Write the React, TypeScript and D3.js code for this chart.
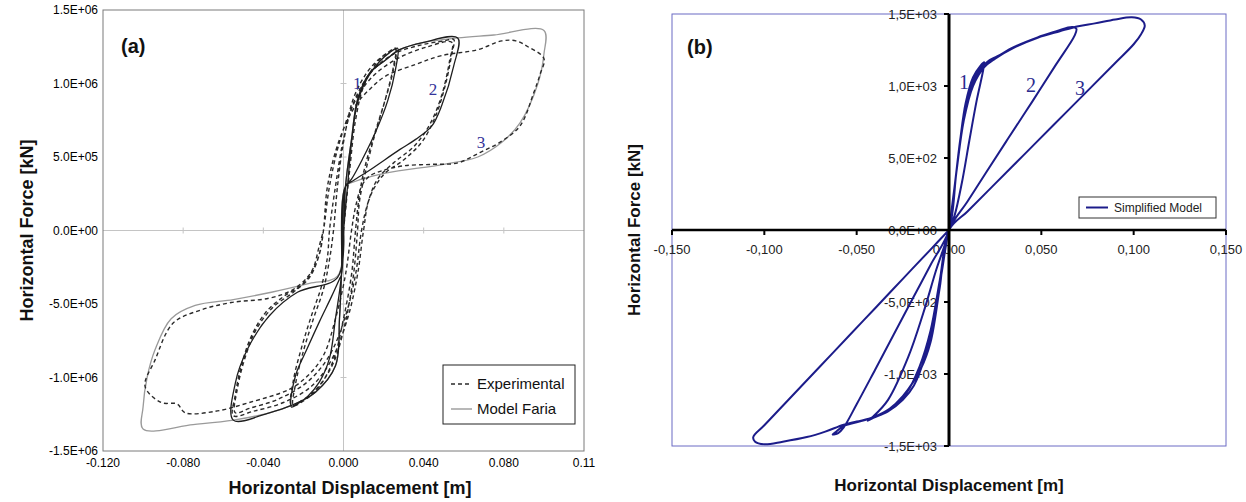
import React from 'react';
import * as d3 from 'd3';

type Pt = [number, number];

// ---------- chart (a) ----------
const ticksXA = [-0.12, -0.08, -0.04, 0, 0.04, 0.08, 0.12];
const tickLabelsXA = ['-0.120', '-0.080', '-0.040', '0.000', '0.040', '0.080', '0.11'];
const ticksYA = [-1.5e6, -1e6, -5e5, 0, 5e5, 1e6, 1.5e6];
const tickLabelsYA = ['-1.5E+06', '-1.0E+06', '-5.0E+05', '0.0E+00', '5.0E+05', '1.0E+06', '1.5E+06'];

// dashed test curve (m, kN)
const experimental: Pt[] = [
  [0, 0], [0.003, 0.4e6], [0.006, 0.75e6], [0.01, 0.98e6], [0.016, 1.13e6], [0.022, 1.21e6], [0.026, 1.24e6],
  [0.025, 1.12e6], [0.021, 0.9e6], [0.016, 0.68e6], [0.011, 0.45e6], [0.008, 0.25e6], [0.006, 0], [0.004, -0.3e6],
  [0.0, -0.6e6], [-0.005, -0.88e6], [-0.012, -1.06e6], [-0.019, -1.15e6], [-0.025, -1.19e6],
  [-0.024, -1.05e6], [-0.02, -0.82e6], [-0.015, -0.6e6], [-0.01, -0.4e6], [-0.007, -0.2e6], [-0.005, 0],
  [-0.003, 0.3e6], [0.0, 0.6e6], [0.005, 0.9e6], [0.012, 1.08e6], [0.019, 1.18e6], [0.026, 1.23e6],
  [0.025, 1.1e6], [0.02, 0.85e6], [0.015, 0.62e6], [0.011, 0.4e6], [0.008, 0.2e6], [0.007, 0], [0.005, -0.3e6],
  [0.001, -0.62e6], [-0.005, -0.9e6], [-0.013, -1.07e6], [-0.02, -1.15e6], [-0.026, -1.19e6],
  [-0.025, -1.02e6], [-0.021, -0.8e6], [-0.016, -0.58e6], [-0.011, -0.38e6], [-0.008, -0.18e6], [-0.007, 0],
  [-0.004, 0.3e6], [0.0, 0.62e6], [0.006, 0.9e6], [0.014, 1.08e6], [0.025, 1.2e6], [0.038, 1.26e6], [0.05, 1.29e6], [0.055, 1.3e6],
  [0.054, 1.2e6], [0.051, 1.0e6], [0.046, 0.78e6], [0.039, 0.6e6], [0.03, 0.48e6], [0.02, 0.38e6], [0.013, 0.22e6], [0.01, 0],
  [0.007, -0.3e6], [0.002, -0.6e6], [-0.006, -0.88e6], [-0.016, -1.06e6], [-0.03, -1.17e6], [-0.045, -1.23e6], [-0.055, -1.26e6],
  [-0.054, -1.12e6], [-0.051, -0.92e6], [-0.046, -0.72e6], [-0.039, -0.56e6], [-0.03, -0.45e6], [-0.02, -0.36e6], [-0.013, -0.2e6], [-0.01, 0],
  [-0.007, 0.3e6], [-0.002, 0.6e6], [0.005, 0.86e6], [0.014, 1.04e6], [0.027, 1.17e6], [0.042, 1.25e6], [0.054, 1.28e6],
  [0.053, 1.16e6], [0.049, 0.92e6], [0.043, 0.72e6], [0.035, 0.57e6], [0.025, 0.46e6], [0.017, 0.35e6], [0.012, 0.18e6], [0.009, 0],
  [0.006, -0.3e6], [0.001, -0.58e6], [-0.007, -0.85e6], [-0.018, -1.03e6], [-0.033, -1.15e6], [-0.047, -1.21e6], [-0.054, -1.24e6],
  [-0.053, -1.08e6], [-0.049, -0.86e6], [-0.043, -0.66e6], [-0.035, -0.52e6], [-0.025, -0.42e6], [-0.017, -0.32e6], [-0.012, -0.16e6], [-0.01, 0],
  [-0.008, 0.3e6], [-0.002, 0.62e6], [0.006, 0.85e6], [0.013, 0.96e6], [0.021, 1.05e6], [0.036, 1.13e6], [0.049, 1.19e6],
  [0.067, 1.23e6], [0.079, 1.29e6], [0.086, 1.29e6], [0.092, 1.25e6], [0.1, 1.17e6],
  [0.098, 1.06e6], [0.095, 0.94e6], [0.088, 0.71e6], [0.078, 0.6e6], [0.068, 0.53e6], [0.057, 0.46e6], [0.044, 0.45e6],
  [0.03, 0.44e6], [0.02, 0.41e6], [0.013, 0.37e6], [0.009, 0.3e6], [0.006, 0.16e6], [0.004, 0], [0.001, -0.3e6],
  [-0.004, -0.6e6], [-0.01, -0.85e6], [-0.018, -0.99e6], [-0.027, -1.08e6], [-0.047, -1.17e6], [-0.064, -1.23e6],
  [-0.079, -1.24e6], [-0.083, -1.18e6], [-0.091, -1.17e6], [-0.099, -1.06e6],
  [-0.094, -0.88e6], [-0.085, -0.63e6], [-0.071, -0.54e6], [-0.056, -0.49e6], [-0.037, -0.46e6], [-0.025, -0.4e6],
  [-0.016, -0.28e6], [-0.012, -0.1e6], [-0.01, 0],
];

// model, cycles 1 and 2
const modelFariaSmall: Pt[] = [
  [0, 0], [0.001, 0.15e6], [0.002, 0.3e6], [0.004, 0.6e6], [0.007, 0.87e6], [0.012, 1.04e6], [0.018, 1.15e6], [0.023, 1.21e6], [0.027, 1.24e6],
  [0.026, 1.1e6], [0.022, 0.88e6], [0.016, 0.67e6], [0.01, 0.5e6], [0.004, 0.35e6], [0.001, 0.3e6], [-0.001, -0.3e6],
  [-0.004, -0.6e6], [-0.007, -0.87e6], [-0.012, -1.03e6], [-0.018, -1.13e6], [-0.023, -1.18e6], [-0.026, -1.2e6],
  [-0.024, -0.99e6], [-0.018, -0.8e6], [-0.012, -0.62e6], [-0.006, -0.45e6], [-0.002, -0.33e6], [-0.001, -0.3e6], [0.001, 0.3e6],
  [0.004, 0.62e6], [0.007, 0.89e6], [0.013, 1.07e6], [0.021, 1.16e6], [0.028, 1.23e6], [0.04, 1.28e6], [0.057, 1.31e6],
  [0.055, 1.12e6], [0.049, 0.85e6], [0.044, 0.71e6], [0.036, 0.62e6], [0.028, 0.55e6], [0.013, 0.41e6], [0.005, 0.34e6], [0.001, 0.3e6],
  [-0.001, -0.3e6], [-0.002, -0.6e6], [-0.004, -0.92e6], [-0.014, -1.1e6], [-0.026, -1.19e6], [-0.037, -1.24e6], [-0.055, -1.29e6],
  [-0.054, -1.04e6], [-0.048, -0.81e6], [-0.037, -0.58e6], [-0.023, -0.42e6], [-0.003, -0.32e6], [0, 0],
];

// model, cycle 3
const modelFariaLarge: Pt[] = [
  [0, 0], [0.001, 0.3e6], [0.004, 0.62e6], [0.007, 0.89e6], [0.013, 1.07e6], [0.021, 1.16e6], [0.028, 1.23e6], [0.04, 1.28e6],
  [0.057, 1.31e6], [0.075, 1.33e6], [0.1, 1.36e6],
  [0.1, 1.2e6], [0.097, 1.0e6], [0.088, 0.73e6], [0.079, 0.6e6], [0.067, 0.5e6], [0.05, 0.45e6], [0.021, 0.39e6], [0.005, 0.33e6], [0.001, 0.3e6],
  [-0.001, -0.3e6], [-0.002, -0.6e6], [-0.004, -0.92e6], [-0.014, -1.1e6], [-0.026, -1.19e6], [-0.037, -1.24e6], [-0.055, -1.29e6],
  [-0.075, -1.32e6], [-0.1, -1.35e6],
  [-0.1, -1.2e6], [-0.098, -1.0e6], [-0.094, -0.81e6], [-0.086, -0.6e6], [-0.074, -0.51e6], [-0.055, -0.47e6], [-0.036, -0.42e6],
  [-0.017, -0.36e6], [-0.003, -0.31e6], [0, 0],
];

const cycleLabelsA = [
  { t: '1', x: 0.0068, y: 1.0e6 },
  { t: '2', x: 0.0446, y: 0.96e6 },
  { t: '3', x: 0.0686, y: 0.6e6 },
];

// ---------- chart (b) ----------
const ticksXB = [-0.15, -0.1, -0.05, 0, 0.05, 0.1, 0.15];
const tickLabelsXB = ['-0,150', '-0,100', '-0,050', '0,000', '0,050', '0,100', '0,150'];
const ticksYB = [-1500, -1000, -500, 0, 500, 1000, 1500];
const tickLabelsYB = ['-1,5E+03', '-1,0E+03', '-5,0E+02', '0,0E+00', '5,0E+02', '1,0E+03', '1,5E+03'];

const simplifiedModel: Pt[] = [
  [0, 0], [0.003, 300], [0.006, 620], [0.009, 880], [0.013, 1060], [0.017, 1140], [0.019, 1165],
  [0.0185, 1110], [0.015, 900], [0.011, 620], [0.007, 330], [0.003, 100], [0, 0],
  [-0.004, -300], [-0.008, -600], [-0.013, -880], [-0.019, -1080], [-0.025, -1180], [-0.033, -1260], [-0.041, -1305], [-0.044, -1325],
  [-0.041, -1295], [-0.033, -1180], [-0.022, -880], [-0.014, -580], [-0.007, -280], [0, 0],
  [0.004, 400], [0.008, 780], [0.012, 1000], [0.017, 1120], [0.022, 1180], [0.026, 1205], [0.035, 1270], [0.048, 1338],
  [0.059, 1384], [0.064, 1405], [0.067, 1410], [0.069, 1396], [0.068, 1350],
  [0.058, 1150], [0.045, 890], [0.032, 635], [0.02, 397], [0.01, 198], [0, 0],
  [-0.005, -350], [-0.01, -700], [-0.016, -950], [-0.023, -1130], [-0.032, -1240], [-0.041, -1300], [-0.05, -1335], [-0.057, -1360],
  [-0.061, -1400], [-0.063, -1420], [-0.06, -1410], [-0.057, -1370],
  [-0.05, -1210], [-0.04, -970], [-0.03, -728], [-0.02, -485], [-0.01, -243], [0, 0],
  [0.004, 400], [0.008, 760], [0.013, 1000], [0.019, 1130], [0.025, 1190], [0.035, 1265], [0.048, 1335], [0.06, 1380],
  [0.07, 1415], [0.079, 1435], [0.09, 1462], [0.099, 1477], [0.104, 1462], [0.106, 1420], [0.104, 1360], [0.1, 1290],
  [0.09, 1160], [0.075, 966], [0.057, 734], [0.04, 515], [0.023, 296], [0.01, 129], [0, 0],
  [-0.005, -400], [-0.01, -780], [-0.015, -957], [-0.025, -1154], [-0.033, -1250], [-0.041, -1302], [-0.05, -1330], [-0.057, -1352],
  [-0.067, -1400], [-0.077, -1438], [-0.09, -1470], [-0.1, -1488], [-0.105, -1470], [-0.106, -1438],
  [-0.1, -1356], [-0.085, -1153], [-0.07, -950], [-0.054, -733], [-0.04, -543], [-0.025, -339], [-0.01, -136], [0, 0],
];

const cycleLabelsB = [
  { t: '1', x: 0.0081, y: 1028 },
  { t: '2', x: 0.0444, y: 1007 },
  { t: '3', x: 0.0709, y: 986 },
];

const W = 1246;
const H = 502;

const ChartA = () => {
  const x = d3.scaleLinear().domain([-0.12, 0.12]).range([103, 584]);
  const y = d3.scaleLinear().domain([-1.5e6, 1.5e6]).range([451, 10]);
  const line = d3.line<Pt>().x(d => x(d[0])).y(d => y(d[1])).curve(d3.curveCatmullRom.alpha(0.5));
  const font = 'Liberation Sans, Arial, sans-serif';

  return (
    <g>
      {/* zero lines */}
      <line x1={x(-0.12)} x2={x(0.12)} y1={y(0)} y2={y(0)} stroke="#c4c4c4" />
      <line x1={x(0)} x2={x(0)} y1={y(1.5e6)} y2={y(-1.5e6)} stroke="#c4c4c4" />
      {ticksXA.slice(1, -1).map(t => (
        <line key={'tx' + t} x1={x(t)} x2={x(t)} y1={y(0) - 3} y2={y(0) + 3} stroke="#c4c4c4" />
      ))}
      {ticksYA.slice(1, -1).map(t => (
        <line key={'ty' + t} x1={x(0) - 3} x2={x(0) + 3} y1={y(t)} y2={y(t)} stroke="#c4c4c4" />
      ))}
      <path d={line(modelFariaLarge) || ''} fill="none" stroke="#9a9a9a" strokeWidth={1.3} />
      <path d={line(experimental) || ''} fill="none" stroke="#2a2a2a" strokeWidth={1.4} strokeDasharray="4,3" />
      <path d={line(modelFariaSmall) || ''} fill="none" stroke="#1e1e1e" strokeWidth={1.3} />
      <rect x={x(-0.12)} y={y(1.5e6)} width={x(0.12) - x(-0.12)} height={y(-1.5e6) - y(1.5e6)} fill="none" stroke="#7a7a7a" />

      {ticksXA.map((t, i) => (
        <text key={'lx' + t} x={x(t)} y={467} textAnchor="middle" fontFamily={font} fontSize={12} fill="#000">{tickLabelsXA[i]}</text>
      ))}
      {ticksYA.map((t, i) => (
        <text key={'ly' + t} x={98} y={y(t) + 4} textAnchor="end" fontFamily={font} fontSize={12} fill="#000">{tickLabelsYA[i]}</text>
      ))}

      {cycleLabelsA.map(c => (
        <text key={c.t} x={x(c.x)} y={y(c.y)} dy="0.35em" textAnchor="middle" fontFamily="Liberation Serif, serif" fontSize={17} fill="#34349a">{c.t}</text>
      ))}

      <text x={121} y={53} fontFamily={font} fontWeight="bold" fontSize={20} fill="#111">(a)</text>

      {/* legend */}
      <rect x={443} y={365} width={132} height={59} fill="#fff" stroke="#222" />
      <line x1={451} x2={472} y1={384} y2={384} stroke="#2a2a2a" strokeWidth={1.4} strokeDasharray="4,3" />
      <text x={477} y={389} fontFamily={font} fontSize={15} fill="#111">Experimental</text>
      <line x1={451} x2={472} y1={409} y2={409} stroke="#9a9a9a" strokeWidth={1.4} />
      <text x={477} y={414} fontFamily={font} fontSize={15} fill="#111">Model Faria</text>

      <text x={350} y={494} textAnchor="middle" fontFamily={font} fontWeight="bold" fontSize={18} fill="#111">Horizontal Displacement [m]</text>
      <text transform={`translate(33,${y(0)}) rotate(-90)`} textAnchor="middle" fontFamily={font} fontWeight="bold" fontSize={18} fill="#111">Horizontal Force [kN]</text>
    </g>
  );
};

const ChartB = () => {
  const x = d3.scaleLinear().domain([-0.15, 0.15]).range([672, 1226]);
  const y = d3.scaleLinear().domain([-1500, 1500]).range([446, 14]);
  const line = d3.line<Pt>().x(d => x(d[0])).y(d => y(d[1])).curve(d3.curveCatmullRom.alpha(0.5));
  const font = 'Liberation Sans, Arial, sans-serif';
  const narrow = 'Liberation Sans Narrow, Arial Narrow, sans-serif';
  const navy = '#1c1c8a';

  return (
    <g>
      <rect x={x(-0.15)} y={y(1500)} width={x(0.15) - x(-0.15)} height={y(-1500) - y(1500)} fill="none" stroke="#6b6bc4" />
      {ticksYB.map((t, i) => (
        <text key={'ly' + t} x={x(0) - 12} y={y(t) + 5} textAnchor="end" fontFamily={narrow} fontSize={13} fill="#222">{tickLabelsYB[i]}</text>
      ))}
      {ticksXB.map((t, i) => (
        <text key={'lx' + t} x={x(t)} y={254} textAnchor="middle" fontFamily={narrow} fontSize={13} fill="#222">{tickLabelsXB[i]}</text>
      ))}
      <path d={line(simplifiedModel) || ''} fill="none" stroke={navy} strokeWidth={2} />
      {/* axes through the origin */}
      <line x1={x(-0.15)} x2={x(0.15)} y1={y(0)} y2={y(0)} stroke="#000" strokeWidth={2.5} />
      <line x1={x(0)} x2={x(0)} y1={y(1500)} y2={y(-1500)} stroke="#000" strokeWidth={3} />
      {ticksXB.map(t => (
        <line key={'tx' + t} x1={x(t)} x2={x(t)} y1={y(0)} y2={y(0) + 5} stroke="#000" strokeWidth={2} />
      ))}
      {ticksYB.map(t => (
        <line key={'ty' + t} x1={x(0) - 5} x2={x(0)} y1={y(t)} y2={y(t)} stroke="#000" strokeWidth={2} />
      ))}

      {cycleLabelsB.map(c => (
        <text key={c.t} x={x(c.x)} y={y(c.y)} dy="0.35em" textAnchor="middle" fontFamily="Liberation Serif, serif" fontSize={20} fill="#2b2b8f">{c.t}</text>
      ))}

      <text x={687} y={54} fontFamily={font} fontWeight="bold" fontSize={20} fill="#111">(b)</text>

      {/* legend */}
      <rect x={1079} y={197} width={137} height={21} fill="#fff" stroke="#333" />
      <line x1={1086} x2={1108} y1={207.5} y2={207.5} stroke={navy} strokeWidth={2} />
      <text x={1114} y={212} fontFamily={narrow} fontSize={12} fill="#222">Simplified Model</text>

      <text x={x(0)} y={491} textAnchor="middle" fontFamily={font} fontWeight="bold" fontSize={17} fill="#111">Horizontal Displacement [m]</text>
      <text transform={`translate(640,${y(0)}) rotate(-90)`} textAnchor="middle" fontFamily={font} fontWeight="bold" fontSize={17} fill="#111">Horizontal Force [kN]</text>
    </g>
  );
};

export default function App() {
  return (
    <svg width={W} height={H} style={{ position: 'absolute', left: 0, top: 0, background: '#fff' }}>
      <rect width={W} height={H} fill="#fff" />
      <ChartA />
      <ChartB />
    </svg>
  );
}
